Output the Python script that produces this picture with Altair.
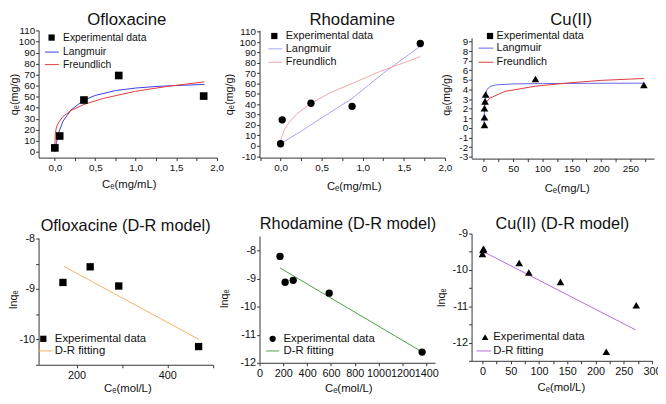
import altair as alt
import pandas as pd

FONT = "Liberation Sans"
AX = "#333333"
TXT = "#111111"

# ---------------- data ----------------
# Ofloxacine isotherm
of_ce = [0.0, 0.06, 0.36, 0.79, 1.84]
of_qe = [3.5, 14.3, 47.0, 69.3, 50.6]
of_lang_c = [0.0, 0.02, 0.05, 0.1, 0.2, 0.36, 0.5, 0.75, 1.0, 1.25, 1.5, 1.85]
of_lang_q = [0.0, 8.4, 17.9, 27.6, 38.0, 47.0, 51.2, 55.6, 57.9, 59.3, 60.2, 61.2]
of_fr_c = [0.0, 0.005, 0.02, 0.05, 0.1, 0.2, 0.36, 0.6, 1.0, 1.4, 1.85]
of_fr_q = [0.0, 16.0, 22.5, 27.0, 32.0, 37.5, 43.0, 48.5, 55.0, 59.5, 63.5]

# Rhodamine isotherm
rh_ce = [0.0, 0.02, 0.37, 0.87, 1.70]
rh_qe = [2.0, 25.0, 41.0, 38.0, 98.6]
rh_lang_c = [0.0, 0.25, 0.5, 0.86, 1.25, 1.7]
rh_lang_q = [2.0, 14.0, 27.0, 45.0, 70.0, 96.0]
rh_fr_c = [0.0, 0.01, 0.05, 0.1, 0.2, 0.37, 0.6, 0.87, 1.22, 1.5, 1.7]
rh_fr_q = [3.0, 8.0, 16.0, 22.0, 31.0, 41.0, 51.0, 60.0, 72.0, 80.0, 86.0]

# Cu(II) isotherm
cu_ce = [1, 1, 1, 2, 3, 88, 273]
cu_qe = [0.32, 1.11, 2.04, 2.76, 3.48, 5.09, 4.47]
cu_lang_c = [0, 1, 2, 3, 5, 10, 20, 50, 100, 200, 273]
cu_lang_q = [0.0, 1.9, 2.9, 3.4, 3.95, 4.30, 4.48, 4.58, 4.62, 4.65, 4.66]
cu_fr_c = [0.5, 1, 3, 10, 36, 88, 147, 200, 273]
cu_fr_q = [1.9, 2.2, 2.6, 3.1, 3.8, 4.35, 4.7, 4.95, 5.15]

# D-R models
ofdr_ce = [170, 230, 293, 469]
ofdr_lnq = [-8.87, -8.56, -8.94, -10.14]
ofdr_fit_c = [172, 470]
ofdr_fit_q = [-8.55, -10.0]

rhdr_ce = [172, 215, 283, 585, 1365]
rhdr_lnq = [-8.21, -9.13, -9.06, -9.52, -11.62]
rhdr_fit_c = [172, 1360]
rhdr_fit_q = [-8.62, -11.6]

cudr_ce = [0, 1, 2, 65, 82, 138, 219, 272]
cudr_lnq = [-9.56, -9.45, -9.42, -9.81, -10.07, -10.33, -12.25, -10.97]
cudr_fit_c = [2, 271]
cudr_fit_q = [-9.5, -11.65]

titles = ["Ofloxacine", "Rhodamine", "Cu(II)",
          "Ofloxacine (D-R model)", "Rhodamine (D-R model)", "Cu(II) (D-R model)"]


def df(xs, ys):
    return pd.DataFrame({"x": xs, "y": ys})


ONE = pd.DataFrame({"a": [0]})


def spacer(w, h):
    return alt.Chart(ONE).mark_point(opacity=0, size=1).encode(
        x=alt.value(w / 2), y=alt.value(h / 2)).properties(width=w, height=h)


COMMA = "abs(datum.value*2 - round(datum.value*2)) < 0.000001 ? replace(format(datum.value, '.1f'), '.', ',') : ''"
INT_ONLY = "datum.value == round(datum.value) ? '' + datum.value : ''"
MULT50 = "datum.value % 50 == 0 && datum.value >= 0 ? '' + datum.value : ''"
PLAIN = "'' + datum.value"


def panel(p):
    w, h = p["w"], p["h"]
    top = p.get("axtop", 0)
    xs = alt.Scale(domain=p["xdom"], nice=False, zero=False)
    ys = alt.Scale(domain=p["ydom"], nice=False, zero=False)
    xaxis = alt.Axis(values=p["xvals"], labelExpr=p["xexpr"], title=p["xtitle"],
                     labelFontSize=p["lfs"], titleFontSize=11.5, labelOverlap=False,
                     labelFlush=False, labelPadding=2, titleX=w / 2 + p.get("xtdx", 0),
                     titleY=p["xty"], titleBaseline="middle", titleAlign="center")
    yaxis = alt.Axis(values=p["yvals"], labelExpr=p["yexpr"], title=p["ytitle"],
                     labelFontSize=p["lfs"], titleFontSize=11, labelOverlap=False,
                     labelFlush=False, labelPadding=1, titleX=p["ytx"], titleY=h / 2,
                     titleBaseline="middle", titleAlign="center", titleAngle=270,
                     domain=(top == 0))
    X = alt.X("x:Q", scale=xs, axis=xaxis)
    Y = alt.Y("y:Q", scale=ys, axis=yaxis)
    layers = []
    if top:
        # y axis line that starts a little below the top of the plot area
        layers.append(alt.Chart(ONE).mark_rule(color=AX, strokeWidth=1).encode(
            x=alt.value(0.5), y=alt.value(top), y2=alt.value(h)))
    for cx, cy, col in p["curves"]:
        layers.append(alt.Chart(df(cx, cy)).mark_line(color=col, strokeWidth=1, clip=True)
                      .encode(x=X, y=Y))
    layers.append(alt.Chart(df(p["px"], p["py"])).mark_point(
        shape=p["shape"], filled=True, color="black", opacity=1, size=p["msize"]).encode(
        x=X, y=Y))
    # legend
    L = p["leg"]
    fs = L["fs"]
    ys0 = L["rows"]
    layers.append(alt.Chart(ONE).mark_point(shape=L["shape"], filled=True, color="black",
                                            opacity=1, size=L["msize"]).encode(
        x=alt.value(L["sx"]), y=alt.value(ys0[0])))
    for i, (lab, col) in enumerate(L["items"]):
        yy = ys0[i]
        if col is not None:
            layers.append(alt.Chart(ONE).mark_rule(color=col, strokeWidth=1).encode(
                x=alt.value(L["lx"][0]), x2=alt.value(L["lx"][1]), y=alt.value(yy)))
        layers.append(alt.Chart(ONE).mark_text(align="left", baseline="middle", font=FONT,
                                               fontSize=fs, color=TXT).encode(
            x=alt.value(L["tx"]), y=alt.value(yy), text=alt.value(lab)))
    # panel title
    layers.append(alt.Chart(ONE).mark_text(align="center", baseline="alphabetic", font=FONT,
                                           fontSize=p["tfs"], color=TXT).encode(
        x=alt.value(w / 2 + p["tdx"]), y=alt.value(p["ty"]), text=alt.value(p["title"])))
    return alt.layer(*layers).properties(width=w, height=h)


blue1, red1 = "#3c3ce6", "#e63c3c"
blue2, red2 = "#a6a6f2", "#f2a6a6"
blue3, red3 = "#6464ea", "#e03a3a"

quarter = [0.25 * i for i in range(9)]

P1 = dict(w=181, h=129, xdom=[-0.201, 2.006], ydom=[-5.35, 110.3], xvals=quarter, xexpr=COMMA,
          yvals=list(range(0, 111, 10)), yexpr=PLAIN, xtitle="Cₑ(mg/mL)", ytitle="qₑ(mg/g)",
          lfs=10, xty=27, ytx=-24.5, xtdx=1,
          curves=[(of_lang_c, of_lang_q, blue1), (of_fr_c, of_fr_q, red1)],
          px=of_ce, py=of_qe, shape="square", msize=60, title=titles[0], tfs=17, ty=-5.4,
          tdx=-1,
          leg=dict(fs=10.5, shape="square", msize=40, sx=13.2, tx=24.8, lx=[6.5, 20.5],
                   rows=[7.3, 22, 34.7],
                   items=[("Experimental data", None), ("Langmuir", blue1), ("Freundlich", red1)]))

P2 = dict(w=188, h=129, xdom=[-0.256, 2.0], ydom=[-11.4, 111.25],
          xvals=[-0.25] + quarter, xexpr=COMMA,
          yvals=list(range(-10, 111, 10)), yexpr=PLAIN, xtitle="Cₑ(mg/mL)", ytitle="qₑ(mg/g)",
          lfs=10, xty=29, ytx=-30, xtdx=1.5,
          curves=[(rh_lang_c, rh_lang_q, blue2), (rh_fr_c, rh_fr_q, red2)],
          px=rh_ce, py=rh_qe, shape="circle", msize=55, title=titles[1], tfs=17, ty=-5.4,
          tdx=0,
          leg=dict(fs=11, shape="square", msize=40, sx=15, tx=26.7, lx=[9, 23],
                   rows=[5.7, 18.7, 32.3],
                   items=[("Experimental data", None), ("Langmuir", blue2), ("Freundlich", red2)]))

P3 = dict(w=185, h=130, xdom=[-21, 290.4], ydom=[-3.2, 10.16], xvals=list(range(0, 276, 25)),
          xexpr=MULT50, yvals=list(range(-3, 10)), yexpr=PLAIN, xtitle="Cₑ(mg/L)",
          ytitle="qₑ(mg/g)", lfs=10, xty=30, ytx=-25, xtdx=4, axtop=8,
          curves=[(cu_lang_c, cu_lang_q, blue3), (cu_fr_c, cu_fr_q, red3)],
          px=cu_ce, py=cu_qe, shape="triangle-up", msize=60, title=titles[2], tfs=17, ty=-5.4,
          tdx=8.5,
          leg=dict(fs=11, shape="square", msize=40, sx=18.7, tx=25.3, lx=[7, 22],
                   rows=[5.7, 18, 32.3],
                   items=[("Experimental data", None), ("Langmuir", blue3), ("Freundlich", red3)]))

P4 = dict(w=176.5, h=133, xdom=[116.3, 500], ydom=[-10.5, -7.902], xvals=[200, 300, 400, 500],
          xexpr="datum.value == 200 || datum.value == 400 ? '' + datum.value : ''",
          yvals=[-8, -8.5, -9, -9.5, -10, -10.5], yexpr=INT_ONLY, xtitle="Cₑ(mol/L)",
          ytitle="lnqₑ", lfs=11, xty=24, ytx=-25, xtdx=1.75, axtop=5,
          curves=[(ofdr_fit_c, ofdr_fit_q, "#f4b35f")],
          px=ofdr_ce, py=ofdr_lnq, shape="square", msize=55, title=titles[3], tfs=16.5, ty=-3,
          tdx=0,
          leg=dict(fs=11.5, shape="square", msize=40, sx=4.8, tx=16.5, lx=[-0.5, 14.5],
                   rows=[106.7, 119],
                   items=[("Experimental data", None), ("D-R fitting", "#f4b35f")]))

P5 = dict(w=178, h=131, xdom=[0, 1474], ydom=[-12, -7.395], xvals=list(range(0, 1401, 200)),
          xexpr=PLAIN, yvals=[-12, -11, -10, -9, -8], yexpr=PLAIN, xtitle="Cₑ(mol/L)",
          ytitle="lnqₑ", lfs=11, xty=26, ytx=-35, xtdx=1, axtop=3,
          curves=[(rhdr_fit_c, rhdr_fit_q, "#4a9e46")],
          px=rhdr_ce, py=rhdr_lnq, shape="circle", msize=55, title=titles[4], tfs=16.5, ty=-5,
          tdx=0.7,
          leg=dict(fs=11.5, shape="circle", msize=40, sx=13.3, tx=24.3, lx=[6.7, 20],
                   rows=[106.7, 119],
                   items=[("Experimental data", None), ("D-R fitting", "#4a9e46")]))

P6 = dict(w=183, h=129, xdom=[-19.2, 300], ydom=[-12.5, -9],
          xvals=list(range(0, 301, 25)), xexpr=MULT50,
          yvals=[-9, -9.5, -10, -10.5, -11, -11.5, -12, -12.5], yexpr=INT_ONLY,
          xtitle="Cₑ(mol/L)", ytitle="lnqₑ", lfs=11, xty=27, ytx=-30, xtdx=-1,
          curves=[(cudr_fit_c, cudr_fit_q, "#b26ce0")],
          px=cudr_ce, py=cudr_lnq, shape="triangle-up", msize=60, title=titles[5], tfs=16.5,
          ty=-5, tdx=0.5,
          leg=dict(fs=11.5, shape="triangle-up", msize=45, sx=13.7, tx=22, lx=[5, 20],
                   rows=[105, 119],
                   items=[("Experimental data", None), ("D-R fitting", "#b26ce0")]))

p1, p2, p3, p4, p5, p6 = [panel(p) for p in (P1, P2, P3, P4, P5, P6)]

# grid of 5 columns (panel, gap, panel, gap, panel) and 3 rows (top panels, gap, bottom panels)
cells = [
    p1, spacer(42.5, 1), p2, spacer(27, 1), p3,
    spacer(1, 76), spacer(1, 76), spacer(1, 76), spacer(1, 76), spacer(1, 76),
    p4, spacer(42.5, 1), p5, spacer(27, 1), p6,
]

chart = alt.concat(*cells, columns=5, spacing=0, bounds="flush", align="each").properties(
    padding={"left": 0, "right": -4, "top": 0, "bottom": 0}
).configure_view(stroke=None).configure_axis(
    grid=False, domainColor=AX, tickColor=AX, labelColor=TXT, titleColor=TXT,
    labelFont=FONT, titleFont=FONT, titleFontWeight="normal", tickSize=3,
    domainWidth=1, tickWidth=1
)

chart.save("out.html", embed_options={"renderer": "svg", "actions": False})
